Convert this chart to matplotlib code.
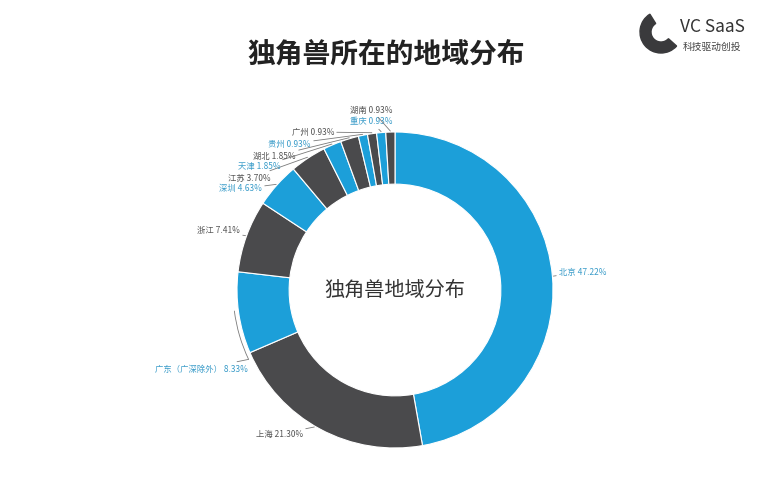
import matplotlib
matplotlib.use("Agg")
import matplotlib.pyplot as plt
from matplotlib.patches import Wedge, Arc
import numpy as np

plt.rcParams['font.family'] = ['Noto Sans CJK SC', 'DejaVu Sans']

# ---- data ----
regions = ["北京", "上海", "广东（广深除外）", "浙江", "深圳", "江苏",
           "天津", "湖北", "贵州", "广州", "重庆", "湖南"]
shares = [47.22, 21.30, 8.33, 7.41, 4.63, 3.70, 1.85, 1.85, 0.93, 0.93, 0.93, 0.93]
title = "独角兽所在的地域分布"
center_label = "独角兽地域分布"

# ---- style ----
BLUE = "#1c9fd9"
DARK = "#4a4a4c"
colors = [BLUE if i % 2 == 0 else DARK for i in range(len(shares))]
txt_colors = ["#3a9cc9" if i % 2 == 0 else "#555555" for i in range(len(shares))]

# label anchor positions in pixel coords (x, y from top), and alignment
label_pos = [(559, 272, 'left'), (303, 434, 'right'), (248, 369, 'right'),
             (240, 231, 'right'), (262, 189, 'right'), (271, 178, 'right'),
             (281, 167, 'right'), (296, 156, 'right'), (311, 144, 'right'),
             (334, 132, 'right'), (393, 122, 'right'), (393, 110, 'right')]
# optional leader target angle (degrees) overriding the slice mid-angle
leader_angle = {1: 239.5}

W, H = 772, 500
fig = plt.figure(figsize=(W / 100, H / 100), dpi=100)
ax = fig.add_axes([0, 0, 1, 1])

cx, cy, R = 395, H - 290, 158
wedges, _ = ax.pie(shares, colors=colors, startangle=90, counterclock=False,
                   center=(cx, cy), radius=R, frame=True,
                   wedgeprops=dict(width=R * 0.33, edgecolor='white', linewidth=0.8))
ax.set_xlim(0, W)
ax.set_ylim(0, H)
ax.axis('off')

LC = '#7a7a7a'
for i, w in enumerate(wedges):
    lx, ly, ha = label_pos[i]
    label = f"{regions[i]} {shares[i]:.2f}%"
    if i == 2:
        # bracket-style leader running along the outside of the slice
        t1, t2 = w.theta1 % 360, w.theta2 % 360
        lo, hi = min(t1, t2), max(t1, t2)
        a_start, a_end = lo + 14, hi + 2
        ax.add_patch(Arc((cx, cy), 2 * (R + 4), 2 * (R + 4), theta1=a_start, theta2=a_end,
                         color=LC, lw=0.6))
        a = np.deg2rad(a_end)
        ex, ey = cx + (R + 4) * np.cos(a), cy + (R + 4) * np.sin(a)
        ax.annotate(label, xy=(ex, ey), xytext=(lx, H - ly), ha=ha, va='center',
                    fontsize=6, color=txt_colors[i],
                    arrowprops=dict(arrowstyle='-', color=LC, lw=0.6, shrinkA=0, shrinkB=0))
        continue
    ang = np.deg2rad(leader_angle.get(i, (w.theta1 + w.theta2) / 2))
    px, py = cx + (R + 1) * np.cos(ang), cy + (R + 1) * np.sin(ang)
    ax.annotate(label, xy=(px, py), xytext=(lx, H - ly),
                ha=ha, va='center', fontsize=6, color=txt_colors[i],
                arrowprops=dict(arrowstyle='-', color=LC, lw=0.6,
                                shrinkA=0, shrinkB=0))

ax.text(cx, cy, center_label, ha='center', va='center', fontsize=14.5, color='#333333')
ax.text(386, H - 55, title, ha='center', va='center', fontsize=20,
        fontweight='bold', color='#222222')

# logo
ax.add_patch(Wedge((661, H - 32), 21, 122, 318, width=11, color='#3a3a3c'))
ax.text(680, H - 27, "VC SaaS", ha='left', va='center', fontsize=12.5, color='#333333')
ax.text(683, H - 47, "科技驱动创投", ha='left', va='center', fontsize=7, color='#444444')

fig.savefig("out.png", dpi=100, facecolor='white')
